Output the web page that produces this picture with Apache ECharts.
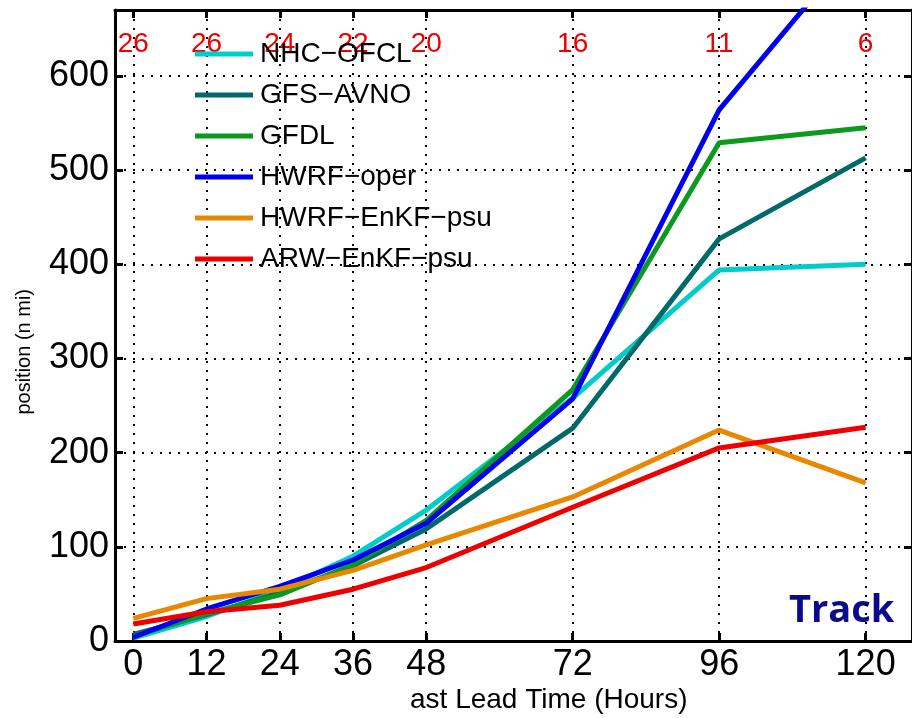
<!DOCTYPE html>
<html>
<head>
<meta charset="utf-8">
<script src="https://cdn.jsdelivr.net/npm/echarts@6/dist/echarts.min.js"></script>
<style>
html,body{margin:0;padding:0;background:#fff;}
#chart{width:912px;height:718px;}
</style>
</head>
<body>
<div id="chart"></div>
<script>
// Forecast lead time (hours) and number of verifying cases
const hours = [0, 12, 24, 36, 48, 72, 96, 120];
const caseCounts = [26, 26, 24, 22, 20, 16, 11, 6];
const yTicks = [0, 100, 200, 300, 400, 500, 600];

// Track errors (n mi)
const nhcOfcl   = [3, 26, 54, 90, 139, 258, 394, 400];
const gfsAvno   = [7, 28, 51, 80, 119, 226, 427, 513];
const gfdl      = [5, 29, 49, 81, 128, 267, 529, 545];
const hwrfOper  = [4, 34, 58, 86, 125, 257, 564, 750];
const hwrfEnkf  = [24, 45, 55, 75, 102, 153, 224, 168];
const arwEnkf   = [18, 31, 38, 55, 78, 142, 205, 227];

const seriesNames = ['NHC\u2212OFCL', 'GFS\u2212AVNO', 'GFDL', 'HWRF\u2212oper', 'HWRF\u2212EnKF\u2212psu', 'ARW\u2212EnKF\u2212psu'];
const seriesValues = [nhcOfcl, gfsAvno, gfdl, hwrfOper, hwrfEnkf, arwEnkf];
const seriesColors = ['#00cccc', '#006a6a', '#0a9a1e', '#0000ee', '#e88800', '#ee0000'];

const FONT = '"Liberation Sans", Arial, Helvetica, sans-serif';

const chart = echarts.init(document.getElementById('chart'), null, {renderer: 'canvas'});

const gridLine = {show: true, lineStyle: {color: '#000', width: 2, type: [2, 7]}};

const option = {
  animation: false,
  backgroundColor: '#fff',
  grid: {left: 115, right: -1, top: 10, bottom: 77, containLabel: false},
  xAxis: [
    {
      type: 'value', position: 'bottom', min: -3, max: 127.6,
      axisLine: {show: true, onZero: false, lineStyle: {color: '#000', width: 3}},
      axisTick: {show: true, inside: true, length: 8, lineStyle: {color: '#000', width: 3}, customValues: hours},
      axisLabel: {show: true, customValues: hours, color: '#000', fontSize: 36, fontFamily: FONT, margin: 6},
      splitLine: gridLine
    },
    {
      type: 'value', position: 'top', min: -3, max: 127.6,
      axisLine: {show: true, onZero: false, lineStyle: {color: '#000', width: 3}},
      axisTick: {show: true, inside: true, length: 8, lineStyle: {color: '#000', width: 3}, customValues: hours},
      axisLabel: {
        show: true, inside: true, customValues: hours, color: '#ee0000', fontSize: 28, fontFamily: FONT, margin: 20,
        formatter: function (v) { const i = hours.indexOf(v); return i >= 0 ? String(caseCounts[i]) : ''; }
      },
      splitLine: {show: false}
    }
  ],
  yAxis: [
    {
      type: 'value', position: 'left', min: 0, max: 670, interval: 100,
      axisLine: {show: true, onZero: false, lineStyle: {color: '#000', width: 3}},
      axisTick: {show: true, inside: true, length: 8, lineStyle: {color: '#000', width: 3}, customValues: yTicks},
      axisLabel: {show: true, customValues: yTicks, color: '#000', fontSize: 36, fontFamily: FONT, margin: 6},
      splitLine: gridLine
    },
    {
      type: 'value', position: 'right', min: 0, max: 670, interval: 100,
      axisLine: {show: true, onZero: false, lineStyle: {color: '#000', width: 3}},
      axisTick: {show: true, inside: true, length: 8, lineStyle: {color: '#000', width: 3}, customValues: yTicks},
      axisLabel: {show: false},
      splitLine: {show: false}
    }
  ],
  legend: {
    orient: 'vertical', left: 190, top: 35, itemGap: 13,
    icon: 'rect', itemWidth: 58, itemHeight: 5,
    textStyle: {color: '#000', fontSize: 28, fontFamily: FONT, lineHeight: 28, padding: [0, 0, 0, 2]},
    data: seriesNames
  },
  series: seriesNames.map(function (name, i) {
    return {
      name: name, type: 'line', xAxisIndex: 0, yAxisIndex: 0,
      data: hours.map(function (h, j) { return [h, seriesValues[i][j]]; }),
      symbol: 'none', showSymbol: false, smooth: false, clip: true,
      color: seriesColors[i],
      lineStyle: {color: seriesColors[i], width: 5},
      itemStyle: {color: seriesColors[i]}
    };
  }),
  graphic: [
    {
      type: 'text', left: 14, top: 289, rotation: Math.PI / 2,
      style: {text: 'position (n mi)', font: '20px ' + FONT, fill: '#000'},
      silent: true
    },
    {
      type: 'text', left: 410, top: 686,
      style: {text: 'ast Lead Time (Hours)', font: '28px ' + FONT, fill: '#000'},
      silent: true
    },
    {
      type: 'text', left: 789, top: 592,
      style: {text: 'Track', font: 'bold 38px "Open Sans", sans-serif', fill: '#0a0a8c'},
      silent: true
    }
  ]
};
chart.setOption(option);
</script>
</body>
</html>
